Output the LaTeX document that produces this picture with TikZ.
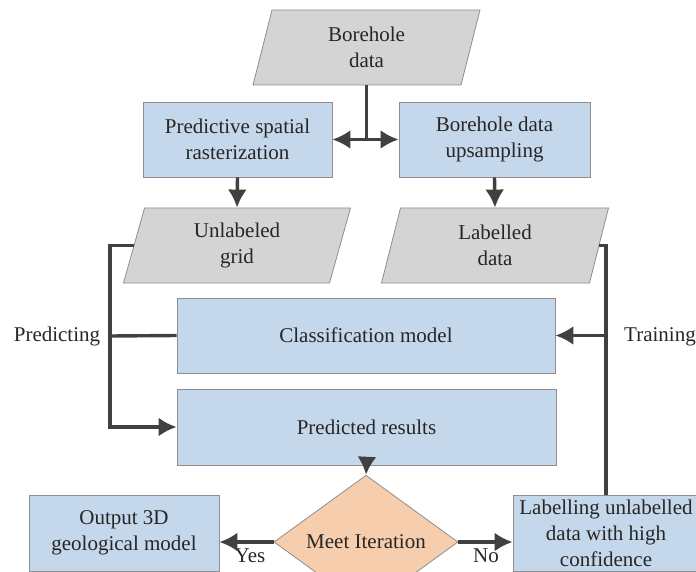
\documentclass[tikz,border=0pt]{standalone}
\usepackage{fontspec}
\setmainfont{Liberation Serif}
\usetikzlibrary{shapes.geometric,arrows.meta}
\definecolor{boxblue}{HTML}{C5D7EA}
\definecolor{iogray}{HTML}{D4D4D4}
\definecolor{decpeach}{HTML}{F7CEAD}
\definecolor{edgegray}{HTML}{8E8E8E}
\definecolor{linegray}{HTML}{404040}
\begin{document}
\begin{tikzpicture}[font=\rmfamily\fontsize{21}{26}\selectfont]
    \def\dx{1pt}
    \def\dy{-1pt}

    \useasboundingbox (0,0) rectangle (696*\dx,572*\dy);
    \clip (0,0) rectangle (696*\dx,572*\dy);

    \tikzstyle{proc}=[draw=edgegray,line width=0.8pt,fill=boxblue,inner sep=0pt,align=center,text=black!85]
    \tikzstyle{io}=[trapezium,trapezium left angle=65,trapezium right angle=115,trapezium stretches body,
                    draw=edgegray,line width=0.8pt,fill=iogray,inner sep=0pt,minimum width=227pt,minimum height=75pt,
                    align=center,text=black!85]
    \tikzstyle{dec}=[diamond,draw=edgegray,line width=0.8pt,fill=decpeach,inner sep=0pt,
                     minimum width=184pt,minimum height=90pt,text=black!85]
    \tikzstyle{lbl}=[text=black!85]

    \node[io]  (bore) at (366.5*\dx,47.5*\dy) {Borehole\\ data};
    \node[proc,minimum width=189pt,minimum height=75pt]  (raster) at (237.5*\dx,139.5*\dy) {Predictive spatial\\ rasterization};
    \node[proc,minimum width=191pt,minimum height=75pt]  (upsamp) at (494.5*\dx,139.5*\dy) {Borehole data\\ upsampling};
    \node[io]  (grid) at (237*\dx,245.5*\dy) {Unlabeled\\ grid};
    \node[io]  (labdata) at (495*\dx,245.5*\dy) {Labelled\\ data};
    \node[proc,minimum width=378pt,minimum height=75pt]  (classif) at (366*\dx,335.5*\dy) {Classification model};
    \node[proc,minimum width=379pt,minimum height=76pt]  (results) at (366.5*\dx,427*\dy) {Predicted results};
    \node[dec]  (iter) at (366*\dx,542*\dy) {Meet Iteration};
    \node[proc,minimum width=190pt,minimum height=76pt]  (output) at (124*\dx,533*\dy) {Output 3D\\ geological model};
    \node[proc,minimum width=186pt,minimum height=76pt]  (relabel) at (606*\dx,533*\dy) {Labelling unlabelled\\ data with high\\ confidence};

    \node[lbl]  (pred) at (57*\dx,336*\dy) {Predicting};
    \node[lbl]  (train) at (660*\dx,337*\dy) {Training};
    \node[lbl]  (yes) at (250*\dx,556*\dy) {Yes};
    \node[lbl]  (no) at (486*\dx,556*\dy) {No};

    \tikzstyle{fwd} = [draw=linegray, line width=3.4pt, -{Latex[length=18pt,width=19pt]}]
    \tikzstyle{wire} = [draw=linegray, line width=3.4pt]

          \draw [wire] (bore.south) -- (bore.south |- raster.east) coordinate (split);
          \draw [fwd] (split) -- (raster.east);
          \draw [fwd] (split) -- (upsamp.west);
          \draw [fwd] (raster.south) -- (grid.north);
          \draw [fwd] (upsamp.south) -- (labdata.north);
          \coordinate (pl) at (110*\dx,336*\dy);
          \draw [fwd] (grid.west) -| (pl) |- (results.west);
          \draw [wire] (classif.west) -- (pl);
          \draw [wire] (labdata.east) -| (relabel.north);
          \draw [fwd] (relabel.north |- classif.east) -- (classif.east);
          \draw [fwd] (results.south) -- (iter.north);
          \draw [fwd] (iter.west) -- (iter.west -| output.east);
          \draw [fwd] (iter.east) -- (iter.east -| relabel.west);

  \end{tikzpicture}
\end{document}
